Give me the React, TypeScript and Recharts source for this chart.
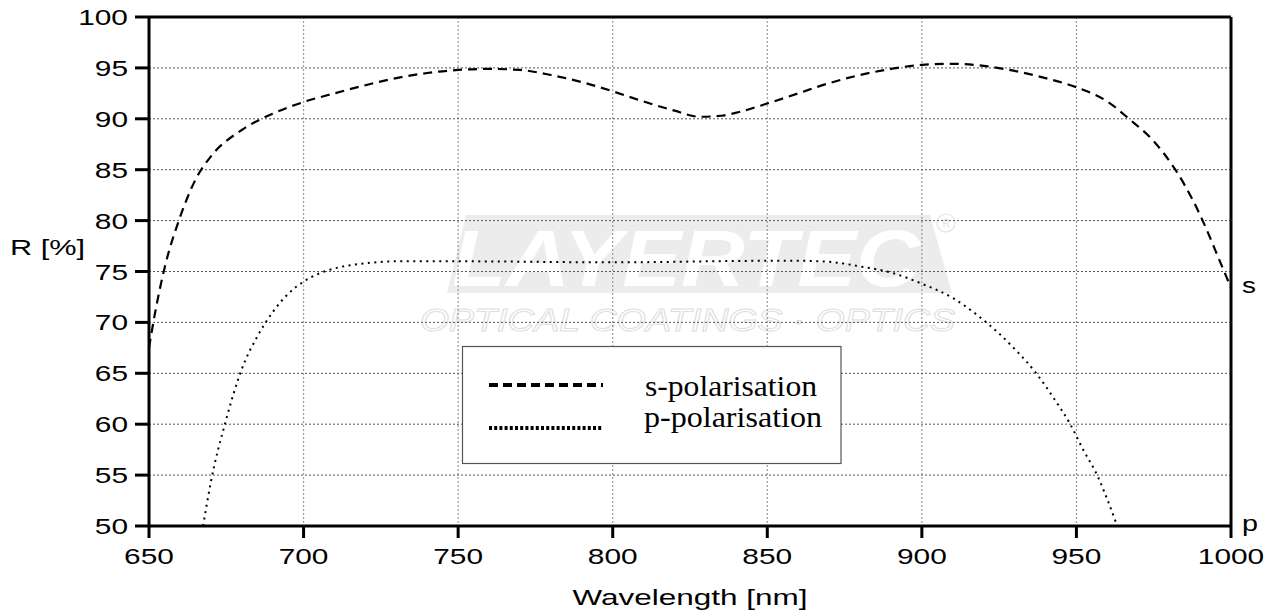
import * as React from "react"
import {
  CartesianGrid,
  Line,
  LineChart,
  ReferenceLine,
  XAxis,
  YAxis,
} from "recharts"

// s-polarisation curve (wavelength in nm, reflectance in %)
const sWavelength = [
  650, 652, 655, 660, 665, 670, 680, 690, 700, 710, 720, 730, 740, 750, 760,
  770, 780, 790, 800, 810, 820, 828, 835, 840, 850, 860, 870, 880, 890, 900,
  910, 920, 930, 940, 950, 960, 967, 975, 982, 988, 992, 996, 1000,
]
const sReflectance = [
  67.5, 71, 75.3, 80.3, 84.0, 86.3, 88.9, 90.5, 91.65, 92.5, 93.3, 94.0, 94.5,
  94.8, 94.9, 94.8, 94.3, 93.6, 92.7, 91.7, 90.8, 90.2, 90.3, 90.6, 91.5, 92.5,
  93.5, 94.3, 94.9, 95.3, 95.4, 95.2, 94.7, 94.0, 93.1, 91.7, 90.0, 87.8, 85.0,
  81.8, 79.2, 76.3, 73.4,
]

// p-polarisation curve
const pWavelength = [
  667.5, 670, 675, 680, 685, 690, 695, 700, 705, 710, 720, 730, 750, 800, 850,
  860, 870, 880, 890, 900, 910, 918, 925, 930, 937, 943, 948, 952, 957, 960,
  963.2,
]
const pReflectance = [
  50, 54.3, 60.5, 65.4, 68.6, 71.0, 72.8, 74.0, 74.8, 75.3, 75.8, 76.0, 76.0,
  75.9, 76.05, 76.05, 75.95, 75.5, 74.9, 73.8, 72.4, 70.7, 68.9, 67.4, 65.0,
  62.4, 60.0, 57.6, 54.8, 52.6, 50,
]

const xTicks = [650, 700, 750, 800, 850, 900, 950, 1000]
const yTicks = [50, 55, 60, 65, 70, 75, 80, 85, 90, 95, 100]

const seriesNames = ["s-polarisation", "p-polarisation"]
const xTitle = "Wavelength [nm]"
const yTitle = "R [%]"

const sData = sWavelength.map((wl, i) => ({ wl, r: sReflectance[i] }))
const pData = pWavelength.map((wl, i) => ({ wl, r: pReflectance[i] }))

const W = 1276
const H = 614
const sans = "'Liberation Sans', Arial, sans-serif"
const serif = "'Liberation Serif', 'Times New Roman', serif"
// the original text is stretched horizontally, so widths are forced
const digitWidth = 16.6

const YTick = ({ x, y, payload }: any) => (
  <text
    x={x}
    y={y}
    dy={8}
    textAnchor="end"
    fontFamily={sans}
    fontSize={22}
    fill="#000"
    textLength={String(payload.value).length * digitWidth}
    lengthAdjust="spacingAndGlyphs"
  >
    {payload.value}
  </text>
)

const XTick = ({ x, y, payload }: any) => (
  <text
    x={x}
    y={y}
    dy={16}
    textAnchor="middle"
    fontFamily={sans}
    fontSize={22}
    fill="#000"
    textLength={String(payload.value).length * digitWidth}
    lengthAdjust="spacingAndGlyphs"
  >
    {payload.value}
  </text>
)

const Watermark = () => (
  <svg width={W} height={H} style={{ position: "absolute", left: 0, top: 0 }}>
    <polygon points="466,215 930,215 952,293 447,293" fill="#ececec" />
    <text
      x={452}
      y={286}
      fontFamily={sans}
      fontWeight={700}
      fontStyle="italic"
      fontSize={80}
      fill="#ffffff"
      textLength={468}
      lengthAdjust="spacingAndGlyphs"
    >
      LAYERTEC
    </text>
    <circle cx={946} cy={223} r={9} fill="none" stroke="#e2e2e2" strokeWidth={1.2} />
    <text x={946} y={227} textAnchor="middle" fontFamily={sans} fontSize={10} fill="#e2e2e2">
      R
    </text>
    <text
      x={420}
      y={331}
      fontFamily={sans}
      fontStyle="italic"
      fontSize={31}
      fill="none"
      stroke="#dedede"
      strokeWidth={1}
      textLength={535}
      lengthAdjust="spacingAndGlyphs"
    >
      OPTICAL COATINGS · OPTICS
    </text>
  </svg>
)

const Overlay = () => (
  <svg
    width={W}
    height={H}
    style={{ position: "absolute", left: 0, top: 0, pointerEvents: "none" }}
  >
    <text x={10} y={255} fontFamily={sans} fontSize={22} textLength={75} lengthAdjust="spacingAndGlyphs">
      {yTitle}
    </text>
    <text
      x={690}
      y={605}
      textAnchor="middle"
      fontFamily={sans}
      fontSize={22}
      textLength={235}
      lengthAdjust="spacingAndGlyphs"
    >
      {xTitle}
    </text>
    <text x={1242} y={293} fontFamily={sans} fontSize={22} textLength={14} lengthAdjust="spacingAndGlyphs">
      s
    </text>
    <text x={1242} y={531} fontFamily={sans} fontSize={22} textLength={16} lengthAdjust="spacingAndGlyphs">
      p
    </text>

    {/* legend */}
    <rect x={462.5} y={346.5} width={378.5} height={117} fill="#fff" stroke="#555" strokeWidth={1.2} />
    <line x1={489} y1={385} x2={603} y2={385} stroke="#000" strokeWidth={4} strokeDasharray="9 5" />
    <line x1={489} y1={428} x2={603} y2={428} stroke="#000" strokeWidth={4} strokeDasharray="3 2.2" />
    <text x={645} y={396} fontFamily={serif} fontSize={29} textLength={172} lengthAdjust="spacingAndGlyphs">
      {seriesNames[0]}
    </text>
    <text x={644} y={427} fontFamily={serif} fontSize={29} textLength={178} lengthAdjust="spacingAndGlyphs">
      {seriesNames[1]}
    </text>
  </svg>
)

export default function App() {
  return (
    <div
      style={{
        position: "absolute",
        left: 0,
        top: 0,
        width: W,
        height: H,
        background: "#fff",
        overflow: "hidden",
      }}
    >
      <Watermark />
      <div style={{ position: "absolute", left: 0, top: 0 }}>
        <LineChart
          width={W}
          height={H}
          margin={{ top: 17, right: 45, bottom: 0, left: 0 }}
        >
          <CartesianGrid
            horizontal={false}
            stroke="#9a9a9a"
            strokeWidth={1.2}
            strokeDasharray="2 2"
          />
          <CartesianGrid
            vertical={false}
            stroke="#555"
            strokeWidth={1}
            strokeDasharray="2 2"
          />
          <XAxis
            dataKey="wl"
            type="number"
            domain={[650, 1000]}
            ticks={xTicks}
            height={88}
            tickSize={12}
            tickMargin={10}
            tick={<XTick />}
            axisLine={{ stroke: "#000", strokeWidth: 3 }}
            tickLine={{ stroke: "#000", strokeWidth: 3 }}
            allowDataOverflow
          />
          <YAxis
            dataKey="r"
            type="number"
            domain={[50, 100]}
            ticks={yTicks}
            width={149}
            tickSize={14}
            tickMargin={7}
            tick={<YTick />}
            axisLine={{ stroke: "#000", strokeWidth: 3 }}
            tickLine={{ stroke: "#000", strokeWidth: 3 }}
            allowDataOverflow
          />
          <ReferenceLine y={100} stroke="#000" strokeWidth={3} />
          <ReferenceLine x={1000} stroke="#000" strokeWidth={3} />
          <Line
            data={sData}
            dataKey="r"
            name={seriesNames[0]}
            type="monotone"
            stroke="#000"
            strokeWidth={2.2}
            strokeDasharray="9 6"
            dot={false}
            activeDot={false}
            isAnimationActive={false}
          />
          <Line
            data={pData}
            dataKey="r"
            name={seriesNames[1]}
            type="monotone"
            stroke="#000"
            strokeWidth={2}
            strokeDasharray="2 4.5"
            dot={false}
            activeDot={false}
            isAnimationActive={false}
          />
        </LineChart>
      </div>
      <Overlay />
    </div>
  )
}
